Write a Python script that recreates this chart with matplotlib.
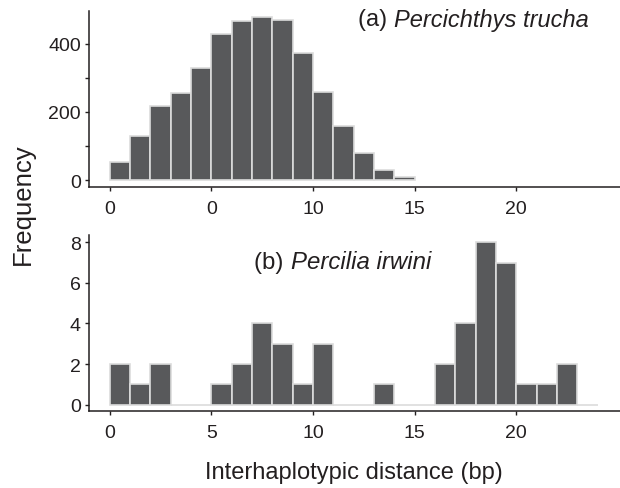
import numpy as np
import matplotlib
matplotlib.use("Agg")
from matplotlib import pyplot as plt
from matplotlib.ticker import FixedLocator, FixedFormatter

plt.rcParams['font.family'] = ['Liberation Sans', 'DejaVu Sans']

# histogram counts, one bin per 1 bp
trucha_counts = [54, 129, 219, 256, 328, 430, 468, 478, 471, 374, 259, 160, 79, 29, 8]
irwini_counts = [2, 1, 2, 0, 0, 1, 2, 4, 3, 1, 3, 0, 0, 1, 0, 0, 2, 4, 8, 7, 1, 1, 2, 0]

x_ticks = [0, 5, 10, 15, 20]
top_xlabels = ["0", "0", "10", "15", "20"]   # as printed in the figure
bot_xlabels = ["0", "5", "10", "15", "20"]

bar_col = '#58595b'
edge_col = '#dcdcdc'
ink = '#231f20'

fig = plt.figure(figsize=(6.2, 4.89), dpi=100)
ax1 = fig.add_axes([0.144, 0.6155, 0.856, 0.36])
ax2 = fig.add_axes([0.144, 0.157, 0.856, 0.3605])

def style(ax):
    for s in ['top', 'right']:
        ax.spines[s].set_visible(False)
    for s in ['left', 'bottom']:
        ax.spines[s].set_color(ink)
        ax.spines[s].set_linewidth(1.1)
    ax.tick_params(axis='both', colors=ink, labelsize=14, length=3, width=1)
    ax.tick_params(axis='x', pad=6)
    ax.tick_params(axis='y', pad=3)

# (a) Percichthys trucha
edges = np.arange(len(trucha_counts))
ax1.bar(edges, trucha_counts, width=1, align='edge', color=bar_col,
        edgecolor=edge_col, linewidth=1.2)
ax1.set_xlim(-1, 25.1)
ax1.set_ylim(-20.6, 497)
ax1.yaxis.set_major_locator(FixedLocator([0, 100, 200, 300, 400]))
ax1.yaxis.set_major_formatter(FixedFormatter(["0", "", "200", "", "400"]))
ax1.xaxis.set_major_locator(FixedLocator(x_ticks))
ax1.xaxis.set_major_formatter(FixedFormatter(top_xlabels))
style(ax1)
ax1.text(12.2, 473, "(a) ", fontsize=17, color=ink, va='center', ha='left')
ax1.text(14.0, 473, "Percichthys trucha", fontsize=17, color=ink,
         va='center', ha='left', style='italic')

# (b) Percilia irwini
edges = np.arange(len(irwini_counts))
ax2.bar(edges, irwini_counts, width=1, align='edge', color=bar_col,
        edgecolor=edge_col, linewidth=1.2)
ax2.set_xlim(-1, 25.1)
ax2.set_ylim(-0.325, 8.36)
ax2.set_yticks([0, 2, 4, 6, 8])
ax2.xaxis.set_major_locator(FixedLocator(x_ticks))
ax2.xaxis.set_major_formatter(FixedFormatter(bot_xlabels))
style(ax2)
ax2.text(7.08, 7.04, "(b) ", fontsize=17.3, color=ink, va='center', ha='left')
ax2.text(8.92, 7.04, "Percilia irwini", fontsize=17.3, color=ink,
         va='center', ha='left', style='italic')

fig.text(0.037, 0.582, "Frequency", rotation=90, fontsize=18.5, color=ink,
         ha='center', va='center')
fig.text(0.571, 0.02, "Interhaplotypic distance (bp)", fontsize=17, color=ink,
         ha='center', va='baseline')

fig.savefig("out.png", dpi=100)
